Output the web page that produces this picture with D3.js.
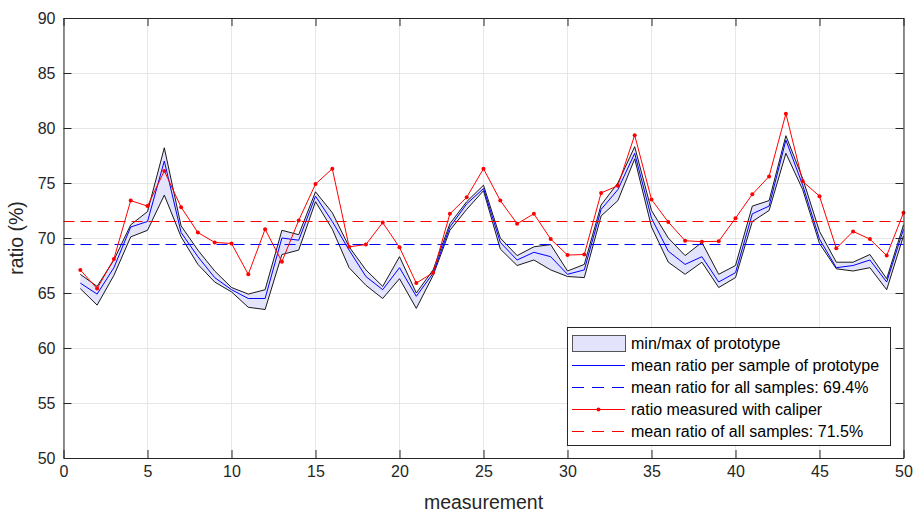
<!DOCTYPE html>
<html>
<head>
<meta charset="utf-8">
<script src="https://cdn.jsdelivr.net/npm/d3@7"></script>
<style>
  html, body { margin: 0; padding: 0; background: #fff; }
  svg { display: block; font-family: "Liberation Sans", Arial, Helvetica, sans-serif; }
</style>
</head>
<body>
<svg id="chart" width="916" height="515"></svg>
<script>
// ---- data ----
const measurements = d3.range(1, 51);
const protoMax = [66.7, 65.6, 68.0, 71.2, 72.4, 78.2, 71.1, 68.9, 67.0, 65.5,
                  64.9, 65.3, 70.7, 70.3, 74.2, 72.3, 69.2, 67.1, 65.6, 68.3,
                  65.0, 67.1, 71.3, 73.3, 74.8, 70.0, 68.4, 69.2, 69.4, 67.0,
                  67.6, 73.0, 75.0, 78.3, 72.5, 70.0, 68.4, 69.6, 66.7, 67.5,
                  72.9, 73.4, 79.3, 75.4, 70.6, 67.8, 67.8, 68.5, 66.3, 71.2];
const protoMean = [65.9, 64.9, 67.3, 71.0, 71.5, 77.0, 70.5, 68.3, 66.4, 65.3,
                   64.5, 64.5, 70.0, 69.8, 73.8, 71.5, 68.9, 66.5, 65.3, 67.3,
                   64.7, 66.8, 71.0, 73.1, 74.5, 69.6, 68.0, 68.7, 68.3, 66.7,
                   67.1, 72.6, 74.4, 77.7, 71.8, 68.8, 67.6, 68.3, 66.0, 66.85,
                   72.2, 72.9, 78.9, 74.8, 69.9, 67.3, 67.5, 68.0, 66.0, 70.8];
const protoMin = [65.4, 63.9, 66.6, 70.1, 70.7, 73.9, 70.1, 67.6, 66.0, 65.1,
                  63.7, 63.5, 68.5, 68.9, 73.3, 70.8, 67.3, 65.7, 64.5, 66.3,
                  63.6, 66.6, 70.7, 72.6, 74.3, 69.0, 67.5, 68.0, 67.1, 66.5,
                  66.4, 72.0, 73.4, 77.2, 71.0, 67.8, 66.7, 67.8, 65.5, 66.4,
                  71.5, 72.5, 77.7, 74.4, 69.5, 67.2, 67.0, 67.3, 65.3, 70.2];
const caliper = [67.1, 65.4, 68.1, 73.4, 72.9, 76.1, 72.8, 70.5, 69.6, 69.5,
                 66.7, 70.8, 67.85, 71.6, 74.9, 76.3, 69.2, 69.4, 71.4, 69.15,
                 65.9, 66.85, 72.2, 73.7, 76.3, 73.4, 71.3, 72.2, 69.9, 68.45,
                 68.5, 74.1, 74.75, 79.35, 73.5, 71.45, 69.75, 69.67, 69.7, 71.8,
                 73.97, 75.6, 81.3, 75.15, 73.8, 69.06, 70.6, 69.9, 68.4, 72.3];
const meanProto = 69.4;
const meanCaliper = 71.5;
const xTicks = [0, 5, 10, 15, 20, 25, 30, 35, 40, 45, 50];
const yTicks = [50, 55, 60, 65, 70, 75, 80, 85, 90];
const legendLabels = ["min/max of prototype",
                      "mean ratio per sample of prototype",
                      "mean ratio for all samples: 69.4%",
                      "ratio measured with caliper",
                      "mean ratio of all samples: 71.5%"];

// ---- layout ----
const svg = d3.select("#chart");
const L = 63.5, R = 903.5, T = 18, B = 458;
const x = d3.scaleLinear().domain([0, 50]).range([L, R]);
const y = d3.scaleLinear().domain([50, 90]).range([B, T]);
const crisp = v => Math.round(v - 0.5) + 0.5;
const axisColor = "#262626";
const tickLen = 8;

// grid
const grid = svg.append("g");
grid.selectAll(".gx").data(xTicks).join("line")
  .attr("x1", d => crisp(x(d))).attr("x2", d => crisp(x(d))).attr("y1", T).attr("y2", B)
  .attr("stroke", "#e6e6e6").attr("stroke-width", 1);
grid.selectAll(".gy").data(yTicks).join("line")
  .attr("x1", L).attr("x2", R).attr("y1", d => crisp(y(d))).attr("y2", d => crisp(y(d)))
  .attr("stroke", "#e6e6e6").attr("stroke-width", 1);

const plot = svg.append("g");
const pts = measurements.map((m, i) => ({m, lo: protoMin[i], hi: protoMax[i], mean: protoMean[i], cal: caliper[i]}));

// band
plot.append("path").datum(pts)
  .attr("d", d3.area().x(d => x(d.m)).y0(d => y(d.lo)).y1(d => y(d.hi)))
  .attr("fill", "#e3e3fb").attr("stroke", "none");
plot.append("path").datum(pts)
  .attr("d", d3.line().x(d => x(d.m)).y(d => y(d.hi)))
  .attr("fill", "none").attr("stroke", "#000").attr("stroke-width", 0.9);
plot.append("path").datum(pts)
  .attr("d", d3.line().x(d => x(d.m)).y(d => y(d.lo)))
  .attr("fill", "none").attr("stroke", "#000").attr("stroke-width", 0.9);
// mean line
plot.append("path").datum(pts)
  .attr("d", d3.line().x(d => x(d.m)).y(d => y(d.mean)))
  .attr("fill", "none").attr("stroke", "#0000ff").attr("stroke-width", 1);
// mean dashed lines
plot.append("line").attr("x1", x(0)).attr("x2", x(50))
  .attr("y1", crisp(y(meanProto))).attr("y2", crisp(y(meanProto)))
  .attr("stroke", "#0000ff").attr("stroke-width", 1).attr("stroke-dasharray", "11,6");
plot.append("line").attr("x1", x(0)).attr("x2", x(50))
  .attr("y1", crisp(y(meanCaliper))).attr("y2", crisp(y(meanCaliper)))
  .attr("stroke", "#ff0000").attr("stroke-width", 1).attr("stroke-dasharray", "11,6");
// caliper
plot.append("path").datum(pts)
  .attr("d", d3.line().x(d => x(d.m)).y(d => y(d.cal)))
  .attr("fill", "none").attr("stroke", "#ff0000").attr("stroke-width", 1);
plot.selectAll(".dot").data(pts).join("circle")
  .attr("cx", d => x(d.m)).attr("cy", d => y(d.cal)).attr("r", 2)
  .attr("fill", "#ff0000");

// axes (MATLAB style box with inward ticks)
const ax = svg.append("g");
ax.append("g").attr("transform", `translate(0,${B})`)
  .call(d3.axisBottom(x).tickValues(xTicks).tickSizeInner(-tickLen).tickSizeOuter(0).tickPadding(8));
ax.append("g").attr("transform", `translate(0,${T})`)
  .call(d3.axisTop(x).tickValues(xTicks).tickSizeInner(-tickLen).tickSizeOuter(0).tickFormat(""));
ax.append("g").attr("transform", `translate(${L},0)`)
  .call(d3.axisLeft(y).tickValues(yTicks).tickSizeInner(-tickLen).tickSizeOuter(0).tickPadding(8));
ax.append("g").attr("transform", `translate(${R},0)`)
  .call(d3.axisRight(y).tickValues(yTicks).tickSizeInner(-tickLen).tickSizeOuter(0).tickFormat(""));
ax.selectAll(".domain").attr("stroke", axisColor).attr("stroke-width", 1);
ax.selectAll(".tick line").attr("stroke", axisColor).attr("stroke-width", 1);
ax.selectAll(".tick text").attr("fill", axisColor).attr("font-size", 16)
  .attr("font-family", "'Liberation Sans', Arial, sans-serif");

// axis labels
svg.append("text").attr("x", (L + R) / 2).attr("y", 509)
  .attr("text-anchor", "middle").attr("font-size", 19.5).attr("fill", axisColor)
  .text("measurement");
svg.append("text").attr("transform", `translate(23,${(T + B) / 2}) rotate(-90)`)
  .attr("text-anchor", "middle").attr("font-size", 19.5).attr("fill", axisColor)
  .text("ratio (%)");

// legend
const lg = svg.append("g");
const lgX = 567.5, lgY = 327.5, lgW = 323, lgH = 118;
lg.append("rect").attr("x", lgX).attr("y", lgY).attr("width", lgW).attr("height", lgH)
  .attr("fill", "#fff").attr("stroke", axisColor).attr("stroke-width", 1);
const rowY = i => 343.5 + i * 22;
const sx0 = 572, sx1 = 625;
lg.append("rect").attr("x", sx0 + 0.5).attr("y", rowY(0) - 8).attr("width", sx1 - sx0).attr("height", 16)
  .attr("fill", "#e3e3fb").attr("stroke", "#555").attr("stroke-width", 1);
lg.append("line").attr("x1", sx0).attr("x2", sx1).attr("y1", rowY(1)).attr("y2", rowY(1))
  .attr("stroke", "#0000ff").attr("stroke-width", 1);
lg.append("line").attr("x1", sx0).attr("x2", sx1).attr("y1", rowY(2)).attr("y2", rowY(2))
  .attr("stroke", "#0000ff").attr("stroke-width", 1).attr("stroke-dasharray", "12,8");
lg.append("line").attr("x1", sx0).attr("x2", sx1).attr("y1", rowY(3)).attr("y2", rowY(3))
  .attr("stroke", "#ff0000").attr("stroke-width", 1);
lg.append("circle").attr("cx", (sx0 + sx1) / 2).attr("cy", rowY(3)).attr("r", 2).attr("fill", "#ff0000");
lg.append("line").attr("x1", sx0).attr("x2", sx1).attr("y1", rowY(4)).attr("y2", rowY(4))
  .attr("stroke", "#ff0000").attr("stroke-width", 1).attr("stroke-dasharray", "12,8");
lg.selectAll(".lt").data(legendLabels).join("text")
  .attr("x", 631).attr("y", (d, i) => rowY(i)).attr("dy", "0.35em")
  .attr("font-size", 16).attr("fill", "#000").text(d => d);
</script>
</body>
</html>
